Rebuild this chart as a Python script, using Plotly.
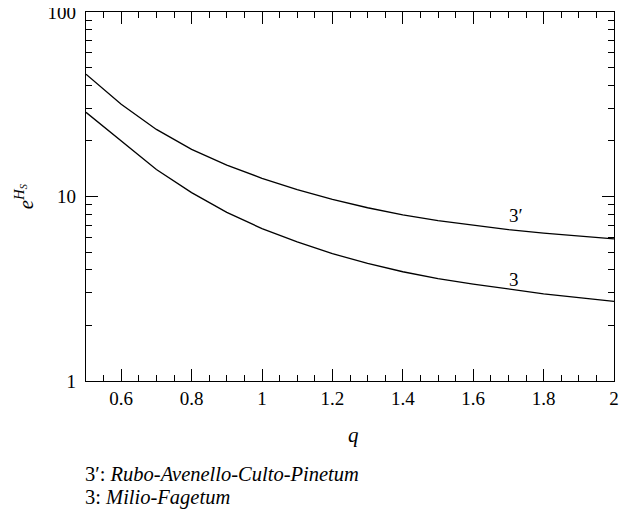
import plotly.graph_objects as go

q = [0.5, 0.6, 0.7, 0.8, 0.9, 1.0, 1.1, 1.2, 1.3, 1.4, 1.5, 1.6, 1.7, 1.8, 1.9, 2.0]
series_3p = [46.0, 31.6, 23.1, 18.0, 14.8, 12.55, 10.9, 9.64, 8.69, 7.96, 7.41, 6.98, 6.62, 6.33, 6.09, 5.90]
series_3 = [28.6, 19.9, 14.0, 10.5, 8.2, 6.70, 5.67, 4.90, 4.34, 3.91, 3.59, 3.35, 3.14, 2.97, 2.83, 2.70]

y_major = [1, 10, 100]
y_minor = [2, 3, 4, 5, 6, 7, 8, 9, 20, 30, 40, 50, 60, 70, 80, 90]
x_major = [0.6, 0.8, 1.0, 1.2, 1.4, 1.6, 1.8, 2.0]
x_major_text = ["0.6", "0.8", "1", "1.2", "1.4", "1.6", "1.8", "2"]

FONT = "Liberation Serif, Times New Roman, serif"
FS = 19

fig = go.Figure()
fig.add_trace(go.Scatter(x=q, y=series_3p, mode="lines",
                         line=dict(color="black", width=1.3), showlegend=False))
fig.add_trace(go.Scatter(x=q, y=series_3, mode="lines",
                         line=dict(color="black", width=1.3), showlegend=False))

# page body has an 8px margin; figure sized so plot area lands at
# x 86..614, y 12..381 in the 628x518 window
fig.update_layout(
    width=612, height=502,
    margin=dict(l=78, r=6, t=4, b=129),
    paper_bgcolor="white", plot_bgcolor="white",
    font=dict(family=FONT, size=FS, color="black"),
    xaxis=dict(
        range=[0.5, 2.0], showgrid=False, zeroline=False,
        showline=True, linecolor="black", linewidth=1.2, mirror="allticks",
        ticks="inside", ticklen=12, tickwidth=1.2, tickcolor="black",
        tickvals=x_major, ticktext=x_major_text,
        minor=dict(dtick=0.05, tick0=0.5, ticks="inside", ticklen=6,
                   tickwidth=1.1, tickcolor="black", showgrid=False),
        tickfont=dict(family=FONT, size=FS),
        automargin=False, ticklabeloverflow="allow",
    ),
    yaxis=dict(
        type="log", range=[0, 2], showgrid=False, zeroline=False,
        showline=True, linecolor="black", linewidth=1.2, mirror="allticks",
        ticks="inside", ticklen=12, tickwidth=1.2, tickcolor="black",
        tickvals=y_major, ticktext=[str(v) for v in y_major],
        minor=dict(tickvals=y_minor, ticks="inside", ticklen=6,
                   tickwidth=1.1, tickcolor="black", showgrid=False),
        tickfont=dict(family=FONT, size=FS),
        ticklabelstandoff=5,
        automargin=False, ticklabeloverflow="allow",
    ),
    annotations=[
        dict(x=1.722, y=0.897, xref="x", yref="y", text="3′", showarrow=False,
             xanchor="center", yanchor="middle", font=dict(family=FONT, size=FS)),
        dict(x=1.715, y=0.548, xref="x", yref="y", text="3", showarrow=False,
             xanchor="center", yanchor="middle", font=dict(family=FONT, size=FS)),
        dict(x=0.506, y=-0.1463, xref="paper", yref="paper", text="<i>q</i>",
             xanchor="center", yanchor="middle",
             showarrow=False, font=dict(family=FONT, size=21)),
        dict(x=-0.117, y=0.4986, xref="paper", yref="paper",
             text="<i>e<sup>H<sub>S</sub></sup></i>", textangle=-90,
             xanchor="center", yanchor="middle",
             showarrow=False, font=dict(family=FONT, size=21)),
        dict(x=-0.005, y=-0.252, xref="paper", yref="paper", xanchor="left", yanchor="middle",
             text="3′: <i>Rubo-Avenello-Culto-Pinetum</i>", showarrow=False,
             font=dict(family=FONT, size=20.5)),
        dict(x=-0.005, y=-0.317, xref="paper", yref="paper", xanchor="left", yanchor="middle",
             text="3: <i>Milio-Fagetum</i>", showarrow=False,
             font=dict(family=FONT, size=20.5)),
    ],
)

fig.write_html("out.html")
